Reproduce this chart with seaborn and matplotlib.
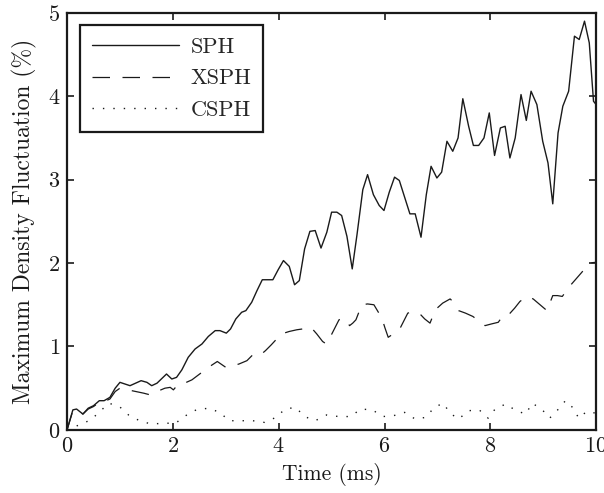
import pandas as pd
import seaborn as sns
import matplotlib
matplotlib.use("Agg")
import matplotlib.pyplot as plt

# values (time in ms, fluctuation in %)
sph_t = [0, 0.11, 0.18, 0.30, 0.40, 0.50, 0.61, 0.70, 0.81, 0.91, 1.00, 1.19, 1.40, 1.51,
         1.60, 1.70, 1.88, 1.98, 2.07, 2.17, 2.29, 2.42, 2.55, 2.67, 2.80, 2.89, 3.01, 3.09,
         3.19, 3.30, 3.38, 3.49, 3.59, 3.69, 3.89, 3.99, 4.09, 4.20, 4.30, 4.39, 4.49, 4.59,
         4.69, 4.80, 4.91, 5.00, 5.10, 5.19, 5.29, 5.39, 5.48, 5.59, 5.68, 5.79, 5.90, 5.99,
         6.09, 6.19, 6.28, 6.39, 6.48, 6.58, 6.69, 6.79, 6.88, 6.99, 7.08, 7.18, 7.29, 7.39,
         7.48, 7.59, 7.68, 7.78, 7.88, 7.98, 8.08, 8.19, 8.28, 8.37, 8.47, 8.58, 8.68, 8.77,
         8.88, 8.99, 9.09, 9.18, 9.28, 9.37, 9.48, 9.59, 9.68, 9.78, 9.87, 9.95, 10.0]
sph_v = [0, 0.24, 0.25, 0.19, 0.26, 0.29, 0.35, 0.35, 0.39, 0.50, 0.57, 0.53, 0.59, 0.57,
         0.53, 0.56, 0.67, 0.61, 0.63, 0.72, 0.87, 0.97, 1.03, 1.12, 1.19, 1.19, 1.16, 1.21,
         1.33, 1.41, 1.43, 1.53, 1.67, 1.80, 1.80, 1.92, 2.03, 1.96, 1.74, 1.79, 2.17, 2.38,
         2.39, 2.18, 2.37, 2.61, 2.61, 2.57, 2.32, 1.93, 2.34, 2.88, 3.06, 2.82, 2.69, 2.63,
         2.85, 3.03, 2.99, 2.77, 2.59, 2.59, 2.31, 2.82, 3.16, 3.02, 3.09, 3.46, 3.34, 3.50,
         3.97, 3.64, 3.41, 3.41, 3.50, 3.80, 3.29, 3.62, 3.64, 3.26, 3.50, 4.02, 3.71, 4.06,
         3.90, 3.46, 3.20, 2.71, 3.56, 3.88, 4.06, 4.72, 4.68, 4.90, 4.64, 3.94, 3.90]

xsph_t = [0, 0.11, 0.18, 0.30, 0.40, 0.50, 0.61, 0.70, 0.81, 0.91, 1.00, 1.15, 1.30, 1.45,
          1.57, 1.70, 1.85, 1.95, 2.01, 2.09, 2.22, 2.36, 2.59, 2.72, 2.84, 3.00, 3.09, 3.25,
          3.40, 3.51, 3.64, 3.75, 3.86, 4.05, 4.20, 4.34, 4.45, 4.61, 4.72, 4.83, 4.90, 4.98,
          5.06, 5.14, 5.24, 5.34, 5.40, 5.46, 5.57, 5.68, 5.80, 5.95, 6.01, 6.07, 6.28, 6.36,
          6.44, 6.55, 6.67, 6.76, 6.86, 6.96, 7.10, 7.24, 7.29, 7.40, 7.53, 7.67, 7.90, 8.02,
          8.15, 8.25, 8.36, 8.46, 8.56, 8.69, 8.81, 8.94, 9.07, 9.18, 9.27, 9.36, 9.51, 9.62,
          9.73, 9.87, 10.0]
xsph_v = [0, 0.23, 0.24, 0.19, 0.25, 0.28, 0.33, 0.34, 0.37, 0.46, 0.50, 0.48, 0.46, 0.44,
          0.42, 0.46, 0.50, 0.51, 0.48, 0.54, 0.56, 0.60, 0.71, 0.77, 0.82, 0.75, 0.76, 0.79,
          0.83, 0.90, 0.89, 0.95, 1.02, 1.15, 1.18, 1.20, 1.21, 1.23, 1.15, 1.06, 1.03, 1.12,
          1.22, 1.32, 1.34, 1.25, 1.28, 1.32, 1.50, 1.51, 1.50, 1.34, 1.22, 1.11, 1.20, 1.30,
          1.40, 1.42, 1.39, 1.33, 1.28, 1.44, 1.52, 1.57, 1.54, 1.43, 1.40, 1.36, 1.25, 1.27,
          1.29, 1.38, 1.39, 1.46, 1.54, 1.60, 1.57, 1.50, 1.43, 1.61, 1.61, 1.60, 1.73, 1.81,
          1.89, 2.00, 2.01]

csph_t = [0, 0.23, 0.45, 0.62, 0.79, 0.99, 1.16, 1.37, 1.59, 1.83, 2.05, 2.24, 2.44, 2.67,
          2.89, 3.06, 3.27, 3.51, 3.73, 3.95, 4.12, 4.32, 4.49, 4.69, 4.91, 5.13, 5.36, 5.55,
          5.77, 5.97, 6.17, 6.38, 6.58, 6.78, 6.94, 7.11, 7.24, 7.40, 7.59, 7.79, 7.96, 8.09,
          8.29, 8.49, 8.67, 8.79, 8.97, 9.12, 9.26, 9.42, 9.57, 9.67, 9.82, 10.0]
csph_v = [0, 0.06, 0.12, 0.22, 0.32, 0.28, 0.18, 0.11, 0.07, 0.08, 0.08, 0.17, 0.24, 0.26,
          0.21, 0.11, 0.11, 0.11, 0.09, 0.15, 0.25, 0.27, 0.16, 0.11, 0.18, 0.16, 0.16, 0.25,
          0.24, 0.16, 0.17, 0.21, 0.13, 0.15, 0.27, 0.32, 0.20, 0.13, 0.23, 0.24, 0.14, 0.25,
          0.31, 0.23, 0.19, 0.32, 0.25, 0.14, 0.23, 0.35, 0.26, 0.14, 0.22, 0.20]

x_ticks = [0, 2, 4, 6, 8, 10]
y_ticks = [0, 1, 2, 3, 4, 5]

sns.set_style("ticks")
plt.rcParams["font.family"] = "serif"
plt.rcParams["font.serif"] = ["cmr10", "DejaVu Serif"]
plt.rcParams["mathtext.fontset"] = "cm"
plt.rcParams["axes.formatter.use_mathtext"] = True

fig = plt.figure(figsize=(6.04, 4.93), dpi=100)
ax = fig.add_axes([0.111, 0.128, 0.876, 0.846])

col = "#1a1a1a"
sns.lineplot(x=sph_t, y=sph_v, ax=ax, color=col, lw=1.0, label="SPH")
sns.lineplot(x=xsph_t, y=xsph_v, ax=ax, color=col, lw=0.9,
             linestyle=(0, (14, 10)), label="XSPH")
sns.lineplot(x=csph_t, y=csph_v, ax=ax, color=col, lw=1.0,
             linestyle=(0, (1, 6.5)), label="CSPH")

ax.set_xlim(0, 10)
ax.set_ylim(0, 5)
ax.set_xticks(x_ticks)
ax.set_yticks(y_ticks)
ax.tick_params(direction="in", length=5, width=1.2, top=True, right=True,
               labelsize=16, colors=col, pad=5)
for s in ax.spines.values():
    s.set_linewidth(1.6)
    s.set_color(col)
ax.set_xlabel("Time (ms)", fontsize=15.5, color=col, labelpad=5)
ax.set_ylabel("Maximum Density Fluctuation (%)", fontsize=17, color=col, labelpad=8)

leg = ax.legend(loc="upper left", bbox_to_anchor=(0.025, 0.971), borderaxespad=0,
                fontsize=16, handlelength=3.9, handletextpad=0.5, labelspacing=0.55,
                borderpad=0.55, fancybox=False, framealpha=1, edgecolor=col)
leg.get_frame().set_linewidth(1.6)

fig.savefig("out.png", dpi=100)
